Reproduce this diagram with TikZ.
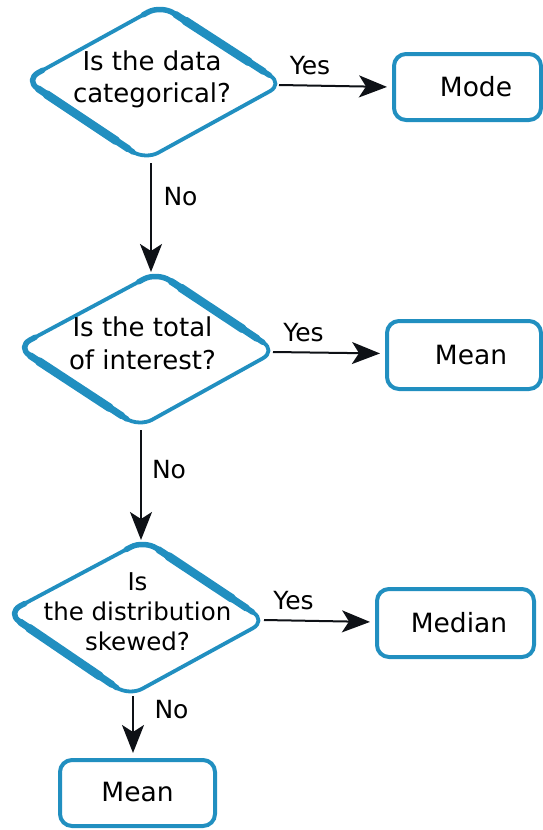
\documentclass[tikz,border=0pt]{standalone}
\usepackage{fontspec}
\setmainfont{DejaVu Sans}
\usetikzlibrary{arrows.meta,calc}
\definecolor{flowblue}{RGB}{33,143,192}
\definecolor{ink}{RGB}{14,17,22}
\tikzset{diapart/.style={draw=flowblue,line cap=round,line join=round,rounded corners=15pt}}
\newcommand{\diathickparts}[4]{%
  \draw[diapart,line width=5.5pt] ($(#1)!0.13!(#4)$) -- (#1) -- ($(#1)!0.89!(#2)$);
  \draw[diapart,line width=7pt] ($(#1)!0.12!(#2)$) -- ($(#1)!0.84!(#2)$);
  \draw[diapart,line width=8.5pt] ($(#1)!0.2!(#2)$) -- ($(#1)!0.72!(#2)$);
  \draw[diapart,line width=5.5pt] ($(#4)!0.13!(#1)$) -- (#4) -- ($(#4)!0.9!(#3)$);
  \draw[diapart,line width=7pt] ($(#4)!0.11!(#3)$) -- ($(#4)!0.86!(#3)$);
  \draw[diapart,line width=8.5pt] ($(#4)!0.18!(#3)$) -- ($(#4)!0.76!(#3)$);
}
\begin{document}
\begin{tikzpicture}[x=1pt,y=-1pt,
  diathin/.style={draw=flowblue,line width=3.8pt,rounded corners=15pt,line join=round},
  box/.style={draw=flowblue,line width=4pt,rounded corners=12pt,fill=white,inner sep=0pt,
    font=\fontsize{26.5}{32}\selectfont},
  dtext/.style={align=center,inner sep=0pt},
  lbl/.style={inner sep=0pt,font=\fontsize{25}{30}\selectfont},
  arr/.style={draw=ink,line width=2pt,-{Stealth[length=28pt,width=22pt,inset=7pt]}}
]
\useasboundingbox (0,0) rectangle (543,830);
\clip (0,0) rectangle (543,830);

% Diamond 1
\coordinate (d1t) at (161,5);
\coordinate (d1r) at (283,84);
\coordinate (d1b) at (145,160);
\coordinate (d1l) at (25,80);
\draw[diathin] (d1t) -- (d1r) -- (d1b) -- (d1l) -- cycle;
\diathickparts{d1t}{d1r}{d1b}{d1l}
\node[dtext,font=\fontsize{26}{32}\selectfont] (q1) at (152,79) {Is the data\\categorical?};

% Diamond 2
\coordinate (d2t) at (157,272);
\coordinate (d2r) at (276,351);
\coordinate (d2b) at (139,427);
\coordinate (d2l) at (17,347);
\draw[diathin] (d2t) -- (d2r) -- (d2b) -- (d2l) -- cycle;
\diathickparts{d2t}{d2r}{d2b}{d2l}
\node[dtext,font=\fontsize{26}{33}\selectfont] (q2) at (142.5,343.5) {Is the total\\of interest?};

% Diamond 3
\coordinate (d3t) at (144,540);
\coordinate (d3r) at (266,621);
\coordinate (d3b) at (129,696);
\coordinate (d3l) at (7,613);
\draw[diathin] (d3t) -- (d3r) -- (d3b) -- (d3l) -- cycle;
\diathickparts{d3t}{d3r}{d3b}{d3l}
\node[dtext,font=\fontsize{24.5}{30}\selectfont] (q3) at (137.5,611.5) {Is\\the distribution\\skewed?};

% Boxes
\node[box,minimum width=147pt,minimum height=66pt] (mode) at (467.5,87) {\hspace*{17pt}Mode};
\node[box,minimum width=154pt,minimum height=68pt] (meanr) at (464,355) {\hspace*{14pt}Mean};
\node[box,minimum width=157pt,minimum height=68pt] (median) at (455.5,623) {\hspace*{7pt}Median};
\node[box,minimum width=155pt,minimum height=66pt] (meanb) at (137.5,793) {\raisebox{3pt}{Mean}};

% Connector end points
\coordinate (y1s) at (279,85);
\coordinate (y2s) at (273,352);
\coordinate (y3s) at (264,620);
\coordinate (n1s) at (151,163);
\coordinate (n1e) at (151,272);
\coordinate (n2s) at (141,430);
\coordinate (n2e) at (141,540);
\coordinate (n3s) at (133,696);

% Connectors
\draw[arr,shorten >=5pt] (y1s) -- (mode.west);
\draw[arr,shorten >=5pt] (y2s) -- ($(meanr.west)+(0,-1.5)$);
\draw[arr,shorten >=5pt] (y3s) -- ($(median.west)+(0,-1)$);
\draw[arr] (n1s) -- (n1e);
\draw[arr] (n2s) -- (n2e);
\draw[arr,shorten >=5pt] (n3s) -- (n3s |- meanb.north);

% Labels
\node[lbl] (yes1) at (310,66) {Yes};
\node[lbl] (yes2) at (303.5,333) {Yes};
\node[lbl] (yes3) at (293.5,601) {Yes};
\node[lbl] (no1) at (180.5,197) {No};
\node[lbl] (no2) at (169,470) {No};
\node[lbl] (no3) at (171.5,710) {No};
\end{tikzpicture}
\end{document}
